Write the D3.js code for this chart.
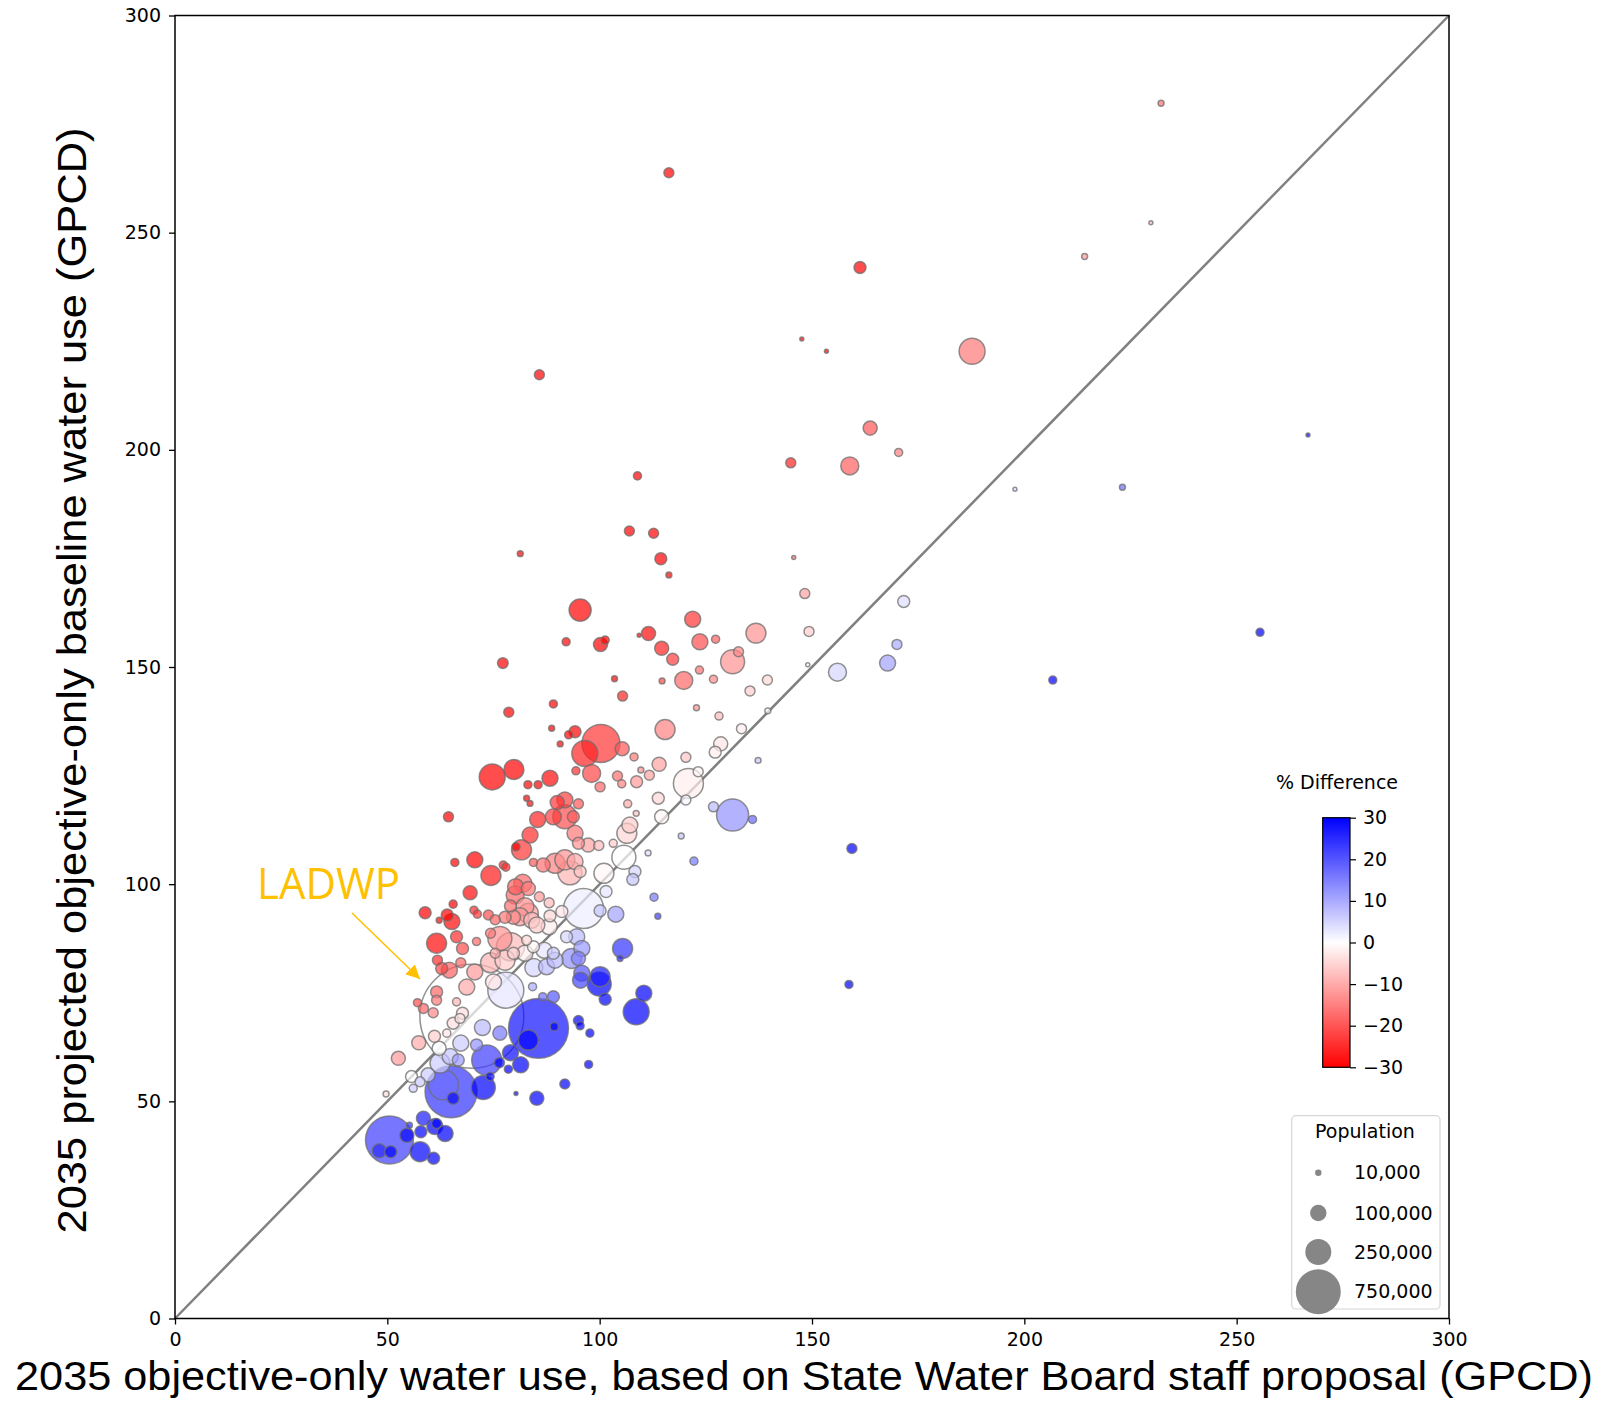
<!DOCTYPE html>
<html>
<head>
<meta charset="utf-8">
<script src="https://cdn.jsdelivr.net/npm/d3@7"></script>
<style>
  body { margin: 0; background: #fff; }
  svg { display: block; }
</style>
</head>
<body>
<div id="chart"></div>
<script>
// x: 2035 objective-only water use (GPCD), y: projected baseline (GPCD)
var objectiveGpcd = [
  232.2, 229.8, 214.2, 116.3, 161.3, 187.7, 147.6, 153.4, 85.8, 163.7,
  170.4, 145.0, 158.9, 108.9, 197.8, 223.1, 266.8, 107.0, 112.7, 81.3,
  114.4, 116.3, 145.7, 148.3, 171.6, 149.3, 170.0, 156.0, 167.8, 206.7,
  255.5, 158.7, 159.4, 149.0, 77.9,
  77.2, 78.6, 89.1, 88.7, 90.7, 74.7, 79.8, 88.3,
  95.4, 92.1, 100.2, 101.3, 109.3, 111.5, 114.6, 117.2, 121.9, 123.6,
  127.3, 136.8, 131.3, 132.7, 119.8, 123.5, 126.8, 114.7, 103.5, 105.4,
  135.4, 139.5, 122.8, 128.1, 133.4, 139.6, 115.4, 100.3, 96.5, 94.2,
  92.7, 105.3, 108.1, 114.0, 120.3, 128.5, 127.2, 137.3, 98.1, 94.4,
  104.2, 109.7, 111.7, 123.2,
  83.1, 85.5, 82.8, 83.6, 90.0, 64.4, 85.4, 89.1, 83.6, 81.6,
  80.3, 84.4, 86.7, 89.5, 65.9, 70.6, 77.3, 77.9, 74.4, 80.2,
  81.9, 83.2, 80.1, 82.4, 79.0, 85.8, 88.1, 69.5, 65.5, 58.9,
  62.2, 64.1, 65.2, 70.4, 71.2, 73.8, 75.4, 77.7, 79.7, 83.2,
  81.2, 84.0, 88.3, 88.1, 85.2, 61.6, 66.3, 67.7, 71.0, 74.3,
  76.5, 79.0, 82.8, 82.4, 75.4, 84.4, 86.9, 89.1, 61.8, 64.6,
  62.8, 67.3, 70.6, 74.3, 77.7, 79.7, 84.5, 87.5, 89.5,
  100.1, 105.2, 108.7, 120.9, 95.0, 91.8, 91.8, 93.8, 106.6, 108.6,
  113.8, 114.6, 120.3, 126.8, 131.3, 136.0, 119.2, 111.4, 122.2, 94.2,
  95.0, 97.3, 99.8, 103.2, 106.4, 107.1, 105.7, 108.3, 107.8, 101.0,
  91.8, 94.2, 93.0, 95.4, 101.5, 96.2, 100.1, 103.8, 91.1, 112.8,
  113.7, 105.4, 104.8, 92.2, 94.6, 95.8, 93.4, 95.0, 95.8, 100.1,
  69.9, 68.7, 75.0, 61.6, 57.1, 61.6, 58.5, 60.8, 66.3, 67.7,
  65.5, 67.1, 64.0, 61.1, 57.4, 62.2, 52.6, 55.7, 49.7, 56.1,
  57.7, 59.6, 62.4, 64.8, 66.7, 67.3, 71.0, 72.4, 76.5, 73.4,
  76.4, 78.5, 79.0, 81.4, 72.6, 74.2, 65.0, 65.5, 63.2, 85.2,
  80.3, 84.2, 86.6, 89.1, 85.6, 83.2, 89.3, 50.5, 48.1, 50.8,
  54.6, 57.9, 58.5, 61.2, 61.6, 63.6, 57.7, 60.9, 55.2,
  95.5, 99.9, 101.3, 110.4, 108.6, 95.0, 95.4, 97.7, 97.4, 91.8
];
var baselineGpcd = [
  279.8, 252.3, 244.5, 263.8, 242.0, 222.7, 225.5, 222.7, 217.3, 205.0,
  199.4, 197.0, 196.3, 194.0, 190.9, 191.4, 203.4, 181.3, 180.8, 176.1,
  174.9, 171.2, 175.2, 166.9, 165.1, 158.2, 155.2, 148.8, 150.9, 147.0,
  158.0, 76.9, 108.2, 150.5, 75.6,
  150.9, 139.6, 141.5, 135.9, 132.3, 124.7, 126.4, 124.4,
  163.1, 155.8, 155.2, 156.2, 157.3, 157.7, 154.3, 151.8, 161.0, 155.8,
  156.4, 157.8, 151.2, 153.5, 146.9, 149.3, 147.2, 146.8, 147.3, 143.3,
  144.5, 147.0, 140.6, 138.7, 135.8, 139.9, 135.6, 132.4, 130.1, 135.1,
  134.4, 131.2, 129.3, 127.6, 129.2, 132.3, 130.4, 128.5, 125.5, 126.1,
  124.9, 126.3, 125.1, 125.9,
  122.9, 122.9, 119.8, 118.6, 118.8, 115.5, 114.9, 115.5, 111.3, 107.9,
  108.6, 105.0, 104.4, 104.8, 105.0, 105.6, 104.4, 103.9, 102.0, 99.4,
  100.2, 99.0, 97.5, 94.8, 95.0, 97.1, 95.7, 98.0, 95.4, 93.4,
  91.7, 92.9, 91.4, 94.0, 93.1, 92.9, 91.8, 92.4, 92.4, 93.3,
  92.5, 91.7, 92.7, 90.2, 90.6, 86.4, 87.9, 85.2, 86.8, 88.7,
  87.5, 85.6, 87.1, 84.1, 84.1, 85.6, 84.8, 84.1, 82.5, 80.2,
  80.6, 81.9, 79.8, 81.9, 82.5, 84.1, 80.8, 81.0, 82.5,
  122.4, 123.1, 123.6, 123.2, 118.5, 119.4, 115.5, 115.5, 118.5, 116.3,
  119.8, 115.5, 119.4, 117.8, 115.9, 114.9, 111.1, 107.2, 105.3, 111.7,
  109.4, 109.0, 108.9, 109.4, 111.7, 113.6, 106.2, 102.9, 101.1, 102.5,
  105.6, 105.2, 102.6, 102.9, 98.3, 94.4, 93.9, 93.1, 93.7, 97.0,
  92.6, 85.2, 82.9, 87.9, 87.9, 85.2, 82.9, 82.9, 79.5, 78.7,
  69.6, 76.3, 77.5, 75.2, 72.7, 73.3, 71.4, 70.4, 72.9, 70.3,
  68.0, 69.1, 65.7, 65.0, 63.5, 62.2, 59.9, 55.7, 51.7, 53.0,
  54.5, 56.1, 58.8, 60.3, 59.5, 63.4, 63.0, 67.0, 65.7, 59.5,
  58.9, 57.4, 61.2, 58.4, 53.2, 55.7, 52.2, 50.7, 53.8, 50.7,
  51.8, 76.4, 74.1, 74.1, 66.8, 64.1, 67.2, 41.1, 38.6, 38.4,
  42.2, 43.0, 46.1, 44.2, 44.9, 42.6, 38.4, 36.9, 44.5,
  77.9, 77.0, 73.5, 74.9, 70.6, 68.6, 67.4, 65.7, 58.5, 54.0
];
var population = [
  13000, 6000, 13000, 37000, 53000, 250000, 6000, 6000, 37000, 73000,
  24000, 37000, 120000, 24000, 6000, 13000, 6000, 37000, 37000, 13000,
  53000, 13000, 6000, 37000, 53000, 37000, 37000, 120000, 95000, 24000,
  24000, 24000, 37000, 6000, 480000,
  42000, 37000, 24000, 13000, 13000, 250000, 148000, 95000,
  180000, 24000, 73000, 24000, 6000, 73000, 73000, 53000, 95000, 95000,
  24000, 148000, 213000, 37000, 120000, 24000, 24000, 13000, 13000, 37000,
  37000, 37000, 13000, 24000, 37000, 13000, 148000, 535000, 250000, 53000,
  24000, 73000, 24000, 73000, 37000, 73000, 53000, 13000, 120000, 24000,
  37000, 13000, 37000, 37000,
  24000, 24000, 13000, 13000, 73000, 37000, 95000, 95000, 95000, 148000,
  24000, 24000, 73000, 148000, 24000, 95000, 24000, 24000, 148000, 95000,
  120000, 73000, 120000, 120000, 53000, 37000, 37000, 73000, 24000, 53000,
  13000, 53000, 95000, 24000, 24000, 37000, 37000, 53000, 73000, 148000,
  120000, 95000, 53000, 95000, 95000, 148000, 53000, 53000, 24000, 37000,
  213000, 290000, 37000, 95000, 37000, 53000, 95000, 53000, 37000, 95000,
  53000, 37000, 95000, 148000, 148000, 53000, 120000, 95000, 95000,
  37000, 24000, 53000, 333000, 37000, 95000, 213000, 53000, 24000, 13000,
  53000, 73000, 37000, 37000, 380000, 24000, 13000, 13000, 24000, 95000,
  53000, 73000, 37000, 24000, 148000, 95000, 213000, 53000, 53000, 148000,
  148000, 95000, 213000, 53000, 53000, 590000, 53000, 95000, 53000, 24000,
  13000, 148000, 13000, 53000, 95000, 95000, 148000, 73000, 95000, 148000,
  4000000, 95000, 95000, 53000, 24000, 37000, 37000, 37000, 24000, 53000,
  53000, 37000, 24000, 53000, 73000, 73000, 73000, 53000, 13000, 24000,
  37000, 73000, 148000, 95000, 53000, 95000, 53000, 95000, 73000, 333000,
  37000, 24000, 95000, 95000, 213000, 24000, 1000000, 53000, 333000, 73000,
  6000, 24000, 24000, 53000, 1330000, 148000, 24000, 850000, 73000, 53000,
  73000, 53000, 73000, 95000, 37000, 95000, 148000, 53000, 13000,
  95000, 213000, 53000, 95000, 250000, 37000, 24000, 24000, 24000, 37000
];
var pctDifference = [
  -17, -9, -12, -56, -33, -16, -35, -31, -60, -20,
  -15, -26, -19, -44, 4, 17, 31, -41, -38, -54,
  -35, -32, -17, -11, 4, -6, 10, 5, 11, 41,
  62, 106, 47, -1, 3,
  -49, -44, -37, -35, -31, -40, -37, -29,
  -42, -41, -35, -35, -31, -29, -26, -23, -24, -21,
  -19, -13, -13, -14, -18, -17, -14, -22, -30, -26,
  -6, -5, -13, -8, -2, 0, -15, -24, -26, -30,
  -31, -20, -16, -11, -7, -3, -2, 7, -22, -25,
  -17, -13, -11, -1,
  -32, -30, -31, -29, -24, -44, -26, -23, -25, -24,
  -30, -20, -17, -15, -37, -33, -26, -25, -27, -19,
  -18, -16, -18, -13, -17, -12, -8, -29, -31, -37,
  -32, -31, -29, -25, -24, -21, -18, -16, -14, -11,
  -12, -8, -5, -2, -6, -29, -25, -21, -18, -16,
  -13, -8, -5, -2, -10, -1, 3, 6, -25, -19,
  -22, -18, -12, -9, -6, -5, 5, 8, 8,
  -18, -15, -12, -2, -20, -23, -21, -19, -10, -7,
  -5, -1, 1, 8, 13, 18, 7, 4, 16, -16,
  -13, -11, -8, -6, -5, -6, 0, 5, 7, -1,
  -13, -10, -9, -7, 3, 2, 7, 11, -3, 16,
  23, 24, 26, 5, 8, 12, 13, 15, 20, 27,
  0, -10, -3, -18, -21, -16, -18, -14, -9, -4,
  -4, -3, -3, -6, -10, 0, -12, 0, -4, 6,
  6, 6, 6, 7, 12, 6, 13, 8, 16, 23,
  30, 37, 29, 39, 36, 33, 24, 29, 17, 68,
  55, 10, 17, 20, 28, 30, 33, 23, 25, 32,
  29, 35, 27, 38, 37, 49, 50, 65, 24,
  22, 30, 38, 47, 54, 38, 42, 49, 66, 70
];
var axisTicks = [0, 50, 100, 150, 200, 250, 300];
var colorbarTicks = [-30, -20, -10, 0, 10, 20, 30];
var legendPops = [10000, 100000, 250000, 750000];
var legendLabels = ["10,000", "100,000", "250,000", "750,000"];

var width = 1601, height = 1401;
var plotLeft = 175, plotRight = 1449, plotTop = 15.5, plotBottom = 1318.5;
var tickFont = "'DejaVu Sans', sans-serif";
var titleFont = "'Liberation Sans', Arial, sans-serif";
var noteFont = "'Open Sans', 'Noto Sans', sans-serif";

var svg = d3.select("#chart").append("svg")
  .attr("width", width).attr("height", height);

var x = d3.scaleLinear().domain([0, 300]).range([plotLeft, plotRight]);
var y = d3.scaleLinear().domain([0, 300]).range([plotBottom, plotTop]);
var r = d3.scaleSqrt().domain([0, 750000]).range([0, 22.5]);
var color = d3.scaleLinear().domain([-30, 0, 30])
  .range(["#ff0000", "#ffffff", "#0000ff"]).clamp(true);

var points = objectiveGpcd.map(function(v, i) {
  return { x: v, y: baselineGpcd[i], pop: population[i], pct: pctDifference[i] };
});
points.sort(function(a, b) { return b.pop - a.pop; });

// 1:1 line
svg.append("line")
  .attr("x1", x(0)).attr("y1", y(0)).attr("x2", x(300)).attr("y2", y(300))
  .attr("stroke", "#808080").attr("stroke-width", 2.5);

svg.append("g").selectAll("circle")
  .data(points)
  .enter()
  .append("circle")
  .attr("cx", function(d) { return x(d.x); })
  .attr("cy", function(d) { return y(d.y); })
  .attr("r", function(d) { return r(d.pop); })
  .attr("fill", function(d) { return color(d.pct); })
  .attr("fill-opacity", 0.7)
  .attr("stroke", "#6e6e6e")
  .attr("stroke-opacity", 0.75)
  .attr("stroke-width", 1.5);

// axes
var xAxis = svg.append("g").attr("transform", "translate(0," + plotBottom + ")")
  .call(d3.axisBottom(x).tickValues(axisTicks).tickSize(6).tickPadding(8).tickFormat(d3.format("d")));
var yAxis = svg.append("g").attr("transform", "translate(" + plotLeft + ",0)")
  .call(d3.axisLeft(y).tickValues(axisTicks).tickSize(6).tickPadding(8).tickFormat(d3.format("d")));
[xAxis, yAxis].forEach(function(g) {
  g.select(".domain").remove();
  g.selectAll("line").attr("stroke", "#000").attr("stroke-width", 1.3);
  g.selectAll("text").attr("font-family", tickFont).attr("font-size", 19).attr("fill", "#000");
});
svg.append("rect")
  .attr("x", plotLeft).attr("y", plotTop)
  .attr("width", plotRight - plotLeft).attr("height", plotBottom - plotTop)
  .attr("fill", "none").attr("stroke", "#000").attr("stroke-width", 1.5);

// axis titles
svg.append("text")
  .attr("x", 804).attr("y", 1390)
  .attr("text-anchor", "middle")
  .attr("font-family", titleFont).attr("font-size", 41)
  .attr("textLength", 1578).attr("lengthAdjust", "spacingAndGlyphs")
  .text("2035 objective-only water use, based on State Water Board staff proposal (GPCD)");
svg.append("text")
  .attr("transform", "translate(86,680.5) rotate(-90)")
  .attr("text-anchor", "middle")
  .attr("font-family", titleFont).attr("font-size", 41)
  .attr("textLength", 1106).attr("lengthAdjust", "spacingAndGlyphs")
  .text("2035 projected objective-only baseline water use (GPCD)");

// LADWP annotation
var orange = "#ffc000";
var defs = svg.append("defs");
defs.append("marker")
  .attr("id", "arrow").attr("viewBox", "0 0 10 10")
  .attr("refX", 10).attr("refY", 5)
  .attr("markerWidth", 14).attr("markerHeight", 14)
  .attr("markerUnits", "userSpaceOnUse")
  .attr("orient", "auto")
  .append("path").attr("d", "M0,0 L10,5 L0,10 z").attr("fill", orange);
svg.append("line")
  .attr("x1", 352).attr("y1", 913).attr("x2", 420).attr("y2", 979)
  .attr("stroke", orange).attr("stroke-width", 1.5)
  .attr("marker-end", "url(#arrow)");
svg.append("text")
  .attr("x", 257).attr("y", 899)
  .attr("font-family", noteFont).attr("font-size", 44)
  .attr("textLength", 143).attr("lengthAdjust", "spacingAndGlyphs")
  .attr("fill", orange)
  .text("LADWP");

// colorbar
var cbX = 1322.7, cbW = 27.3, cbTop = 817.7, cbBottom = 1067.3;
var grad = defs.append("linearGradient").attr("id", "cbgrad")
  .attr("x1", 0).attr("y1", 1).attr("x2", 0).attr("y2", 0);
grad.selectAll("stop").data(colorbarTicks).enter().append("stop")
  .attr("offset", function(d) { return (d + 30) / 60; })
  .attr("stop-color", function(d) { return color(d); });
svg.append("rect")
  .attr("x", cbX).attr("y", cbTop).attr("width", cbW).attr("height", cbBottom - cbTop)
  .attr("fill", "url(#cbgrad)").attr("stroke", "#000").attr("stroke-width", 1.2);
var cbScale = d3.scaleLinear().domain([-30, 30]).range([cbBottom, cbTop]);
var cbAxis = svg.append("g").attr("transform", "translate(" + (cbX + cbW) + ",0)")
  .call(d3.axisRight(cbScale).tickValues(colorbarTicks).tickSize(6).tickPadding(7));
cbAxis.select(".domain").remove();
cbAxis.selectAll("line").attr("stroke", "#000").attr("stroke-width", 1.2);
cbAxis.selectAll("text").attr("font-family", tickFont).attr("font-size", 19).attr("fill", "#000");
svg.append("text")
  .attr("x", 1337).attr("y", 789).attr("text-anchor", "middle")
  .attr("font-family", tickFont).attr("font-size", 19)
  .text("% Difference");

// population legend
var lg = svg.append("g");
lg.append("rect")
  .attr("x", 1291.7).attr("y", 1115.7).attr("width", 148.3).attr("height", 193.3)
  .attr("rx", 4).attr("fill", "#fff").attr("fill-opacity", 0.8)
  .attr("stroke", "#d6d6d6").attr("stroke-width", 1.2);
lg.append("text")
  .attr("x", 1365).attr("y", 1138).attr("text-anchor", "middle")
  .attr("font-family", tickFont).attr("font-size", 19)
  .text("Population");
var legendY = [1172.7, 1213, 1252, 1291.7];
legendPops.forEach(function(p, i) {
  lg.append("circle")
    .attr("cx", 1318.3).attr("cy", legendY[i])
    .attr("r", Math.max(r(p), 3.2))
    .attr("fill", "#808080").attr("fill-opacity", 0.95);
  lg.append("text")
    .attr("x", 1354).attr("y", legendY[i]).attr("dy", "0.35em")
    .attr("font-family", tickFont).attr("font-size", 19)
    .text(legendLabels[i]);
});
</script>
</body>
</html>
